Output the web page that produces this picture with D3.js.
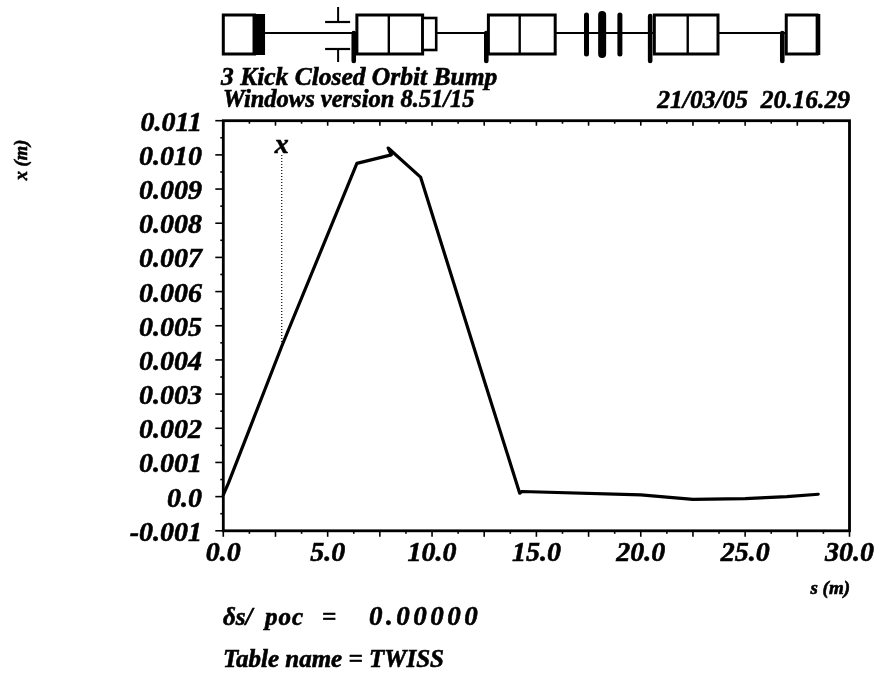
<!DOCTYPE html>
<html><head><meta charset="utf-8">
<script src="https://cdn.jsdelivr.net/npm/d3@7"></script>
<style>
html,body{margin:0;padding:0;background:#fff}
text{font-family:"Liberation Serif",serif;font-weight:bold;font-style:italic;fill:#000;stroke:#000;stroke-width:.6px}
</style></head><body><div id="c"></div>
<script>
// orbit: s (m), x (m)
const sValues=[0,0.25,2.8,6.4,8.05,7.9,9.45,12.5,14.2,14.3,20,22.5,25,27,28.5];
const xValues=[0.00005,0.0004,0.0044,0.00975,0.0100,0.0102,0.00935,0.0034,0.0001,0.00015,0.00005,-0.00008,-0.00006,0,0.00007];
const xTicks=[0,5,10,15,20,25,30];
const yTicks=[-0.001,0,0.001,0.002,0.003,0.004,0.005,0.006,0.007,0.008,0.009,0.010,0.011];
const yTickLabels=["-0.001","0.0","0.001","0.002","0.003","0.004","0.005","0.006","0.007","0.008","0.009","0.010","0.011"];
const titleLines=["3 Kick Closed Orbit Bump","Windows version 8.51/15"];
const stamp="21/03/05  20.16.29";
// beam-line elements: start and end s in metres
const boxStart=[0,6.4,12.7,20.65,26.97];
const boxEnd=[1.5,9.55,15.9,23.7,28.45];
const dividerS=[7.93,14.2,22.25];
const thickStart=[1.4,28.4];
const thickEnd=[2.0,28.6];
const smallBoxStart=[9.55];
const smallBoxEnd=[10.2];
const drop=[6.25,12.6,26.78];
const thin=[17.4,18.15,19.0];
const kicker=[5.5];
const fullBar=[20.45];
const lineStart=[2,10.2,15.9,23.7];
const lineEnd=[6.4,12.7,20.65,26.97];

const W=882,H=673,L=223.3,R=849.5,T=120.7,B=530.8;
const svg=d3.select("#c").append("svg").attr("width",W).attr("height",H).style("display","block");
const defs=svg.append("defs");
const f=defs.append("filter").attr("id","scan").attr("x",0).attr("y",0).attr("width",1).attr("height",1).attr("filterUnits","objectBoundingBox");
f.append("feGaussianBlur").attr("stdDeviation",0.45);
const root=svg.append("g").attr("filter","url(#scan)");
root.append("rect").attr("width",W).attr("height",H).attr("fill","#fff");
const x=d3.scaleLinear().domain([0,30]).range([L,R]);
const y=d3.scaleLinear().domain([-0.001,0.011]).range([B,T]);

// beam line
const m=root.append("g").attr("stroke","#000").attr("fill","none");
const yMid=33,yTop=15,yBot=54;
lineStart.forEach((s,i)=>m.append("line").attr("x1",x(s)).attr("x2",x(lineEnd[i])).attr("y1",yMid).attr("y2",yMid).attr("stroke-width",2.2));
boxStart.forEach((s,i)=>m.append("rect").attr("x",x(s)).attr("width",x(boxEnd[i])-x(s)).attr("y",yTop).attr("height",yBot-yTop).attr("fill","#fff").attr("stroke-width",3));
dividerS.forEach(s=>m.append("line").attr("x1",x(s)).attr("x2",x(s)).attr("y1",yTop).attr("y2",yBot).attr("stroke-width",2.4));
thickStart.forEach((s,i)=>m.append("rect").attr("x",x(s)).attr("width",x(thickEnd[i])-x(s)).attr("y",yTop-1).attr("height",yBot-yTop+2).attr("fill","#000").attr("stroke","none"));
smallBoxStart.forEach((s,i)=>m.append("rect").attr("x",x(s)).attr("width",x(smallBoxEnd[i])-x(s)).attr("y",18).attr("height",32).attr("fill","#fff").attr("stroke-width",2.6));
drop.forEach(s=>m.append("line").attr("x1",x(s)).attr("x2",x(s)).attr("y1",yMid).attr("y2",61).attr("stroke-width",4.6).attr("stroke-linecap","round"));
thin.forEach((s,i)=>m.append("line").attr("x1",x(s)).attr("x2",x(s)).attr("y1",15).attr("y2",54).attr("stroke-width",i==1?8:5).attr("stroke-linecap","round"));
fullBar.forEach(s=>m.append("line").attr("x1",x(s)).attr("x2",x(s)).attr("y1",16).attr("y2",61).attr("stroke-width",4.6).attr("stroke-linecap","round"));
kicker.forEach(s=>{
  m.append("line").attr("x1",x(s)).attr("x2",x(s)).attr("y1",7).attr("y2",22).attr("stroke-width",2);
  m.append("line").attr("x1",x(s)).attr("x2",x(s)).attr("y1",49).attr("y2",62).attr("stroke-width",2);
  m.append("line").attr("x1",x(s)-13).attr("x2",x(s)+12).attr("y1",22).attr("y2",22).attr("stroke-width",2.2);
  m.append("line").attr("x1",x(s)-13).attr("x2",x(s)+12).attr("y1",49).attr("y2",49).attr("stroke-width",2.2);
});

// titles
root.selectAll(".t").data(titleLines).join("text").attr("class","t").attr("x",(d,i)=>i?223:221).attr("y",(d,i)=>85+i*21.5).attr("font-size",(d,i)=>i?24.5:25.5).text(d=>d);
root.append("text").attr("x",850).attr("y",108).attr("text-anchor","end").attr("font-size",25.5).attr("xml:space","preserve").text(stamp);

// axes
const axisG=root.append("g");
const minorX=d3.range(0,30.01,1.25), minorY=d3.range(-0.001,0.01101,0.0005);
axisG.append("g").selectAll("line").data(minorX).join("line")
 .attr("x1",d=>x(d)).attr("x2",d=>x(d)).attr("y1",B).attr("y2",(d,i)=>B+(i%2?3:6)).attr("stroke","#000").attr("stroke-width",1.6);
axisG.append("g").selectAll("line").data(minorX).join("line")
 .attr("x1",d=>x(d)).attr("x2",d=>x(d)).attr("y1",T).attr("y2",(d,i)=>T+(i%2?3:5)).attr("stroke","#000").attr("stroke-width",1.6);
axisG.append("g").selectAll("line").data(minorY).join("line")
 .attr("y1",d=>y(d)).attr("y2",d=>y(d)).attr("x1",L).attr("x2",(d,i)=>L-(i%2?3:8)).attr("stroke","#000").attr("stroke-width",1.6);
axisG.append("rect").attr("x",L).attr("y",T).attr("width",R-L).attr("height",B-T).attr("fill","none").attr("stroke","#000").attr("stroke-width",2.8);

root.selectAll(".xl").data(xTicks).join("text").attr("class","xl").attr("x",d=>x(d)).attr("y",561).attr("text-anchor","middle").attr("font-size",28).text(d=>d3.format(".1f")(d));
root.selectAll(".yl").data(yTicks).join("text").attr("class","yl").attr("x",202).attr("y",d=>y(d)+10).attr("text-anchor","end").attr("font-size",28).text((d,i)=>yTickLabels[i]);

// curve
root.append("path").datum(sValues.map((s,i)=>[s,xValues[i]])).attr("fill","none").attr("stroke","#000").attr("stroke-width",3.2).attr("stroke-linejoin","round").attr("stroke-linecap","round")
 .attr("d",d3.line().x(d=>x(d[0])).y(d=>y(d[1])));
root.append("line").attr("x1",x(2.8)).attr("x2",x(2.8)).attr("y1",155).attr("y2",y(0.0044)).attr("stroke","#000").attr("stroke-width",1.2).attr("stroke-dasharray","1 2");
root.append("text").attr("x",x(2.8)).attr("y",153).attr("text-anchor","middle").attr("font-size",28).text("x");

// labels
root.append("text").attr("transform","translate(27,160) rotate(-90)").attr("text-anchor","middle").attr("font-size",18.5).text("x (m)");
root.append("text").attr("x",850).attr("y",594).attr("text-anchor","end").attr("font-size",19).text("s (m)");
root.append("text").attr("x",223).attr("y",625).attr("font-size",25).text("δs/");
root.append("text").attr("x",265).attr("y",625).attr("font-size",25).attr("letter-spacing",1).text("poc");
root.append("text").attr("x",322).attr("y",625).attr("font-size",25).text("=");
root.append("text").attr("x",369).attr("y",625).attr("font-size",27).attr("letter-spacing",3.5).text("0.00000");
root.append("text").attr("x",223).attr("y",667).attr("font-size",25).text("Table name = TWISS");
</script></body></html>
